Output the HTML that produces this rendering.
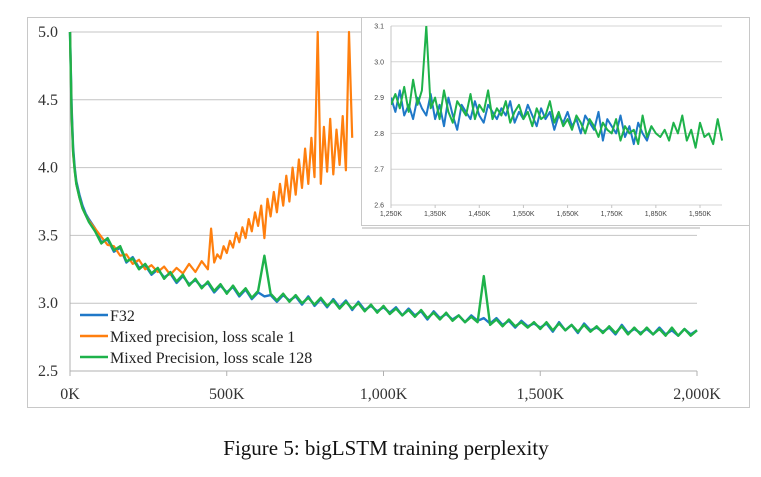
<!DOCTYPE html>
<html><head><meta charset="utf-8"><style>
html,body{margin:0;padding:0;background:#fff;}
svg{display:block;}
</style></head><body>
<svg id="c" width="761" height="477" viewBox="0 0 761 477" font-family="Liberation Serif, serif">
<rect x="27.5" y="17.5" width="722" height="390" fill="#fff" stroke="#c8c8c8"/>
<g id="main"></g>
<g id="inset"></g>
<g font-size="16" fill="#222">
<g><line x1="80" y1="315" x2="108" y2="315" stroke="#1f78c8" stroke-width="2.5"/><text x="110" y="321">F32</text></g>
<g><line x1="80" y1="336" x2="108" y2="336" stroke="#ff7f0e" stroke-width="2.5"/><text x="110" y="342">Mixed precision, loss scale 1</text></g>
<g><line x1="80" y1="357" x2="108" y2="357" stroke="#1eb24a" stroke-width="2.5"/><text x="110" y="363">Mixed Precision, loss scale 128</text></g>
</g>
<text x="386" y="455" text-anchor="middle" font-size="21" fill="#111">Figure 5: bigLSTM training perplexity</text>
</svg>
<script>
const mainX=[0,5,10,15,20,30,40,50,60,80,100,120,140,160,180,200,220,240,260,280,300,320,340,360,380,400,420,440,460,480,500,520,540,560,580,600,620,640,660,680,700,720,740,760,780,800,820,840,860,880,900,920,940,960,980,1000,1020,1040,1060,1080,1100,1120,1140,1160,1180,1200,1220,1240,1260,1280,1300,1320,1340,1360,1380,1400,1420,1440,1460,1480,1500,1520,1540,1560,1580,1600,1620,1640,1660,1680,1700,1720,1740,1760,1780,1800,1820,1840,1860,1880,1900,1920,1940,1960,1980,2000];
const f32Main=[5.0,4.45,4.15,4.0,3.9,3.8,3.72,3.66,3.62,3.55,
3.45,3.47,3.38,3.41,3.30,3.34,3.26,3.28,3.21,3.25,
3.19,3.22,3.15,3.20,3.14,3.17,3.12,3.15,3.08,3.13,
3.08,3.12,3.05,3.10,3.03,3.08,3.05,3.06,3.01,3.06,
3.02,3.05,2.99,3.05,2.98,3.03,2.97,3.03,2.97,3.02,
2.95,3.01,2.95,2.98,2.94,2.97,2.93,2.97,2.91,2.96,
2.91,2.94,2.88,2.94,2.89,2.92,2.88,2.91,2.86,2.91,
2.87,2.89,2.85,2.89,2.84,2.87,2.82,2.87,2.83,2.85,
2.82,2.85,2.79,2.86,2.80,2.84,2.78,2.85,2.80,2.82,
2.79,2.82,2.77,2.84,2.78,2.81,2.78,2.81,2.77,2.82,
2.77,2.80,2.76,2.81,2.77,2.80];
const mp128Main=[5.0,4.4,4.12,3.98,3.88,3.78,3.70,3.65,3.60,3.53,
3.44,3.48,3.39,3.42,3.31,3.33,3.25,3.29,3.22,3.26,
3.18,3.23,3.16,3.21,3.13,3.18,3.11,3.16,3.09,3.14,
3.07,3.13,3.06,3.11,3.04,3.09,3.35,3.07,3.02,3.07,
3.01,3.06,3.00,3.04,2.99,3.04,2.98,3.02,2.96,3.01,
2.96,3.00,2.94,2.99,2.93,2.98,2.92,2.96,2.91,2.95,
2.90,2.95,2.89,2.93,2.88,2.93,2.87,2.91,2.86,2.90,
2.86,3.20,2.84,2.88,2.83,2.88,2.83,2.86,2.82,2.86,
2.81,2.86,2.80,2.85,2.80,2.84,2.79,2.84,2.79,2.83,
2.78,2.83,2.78,2.83,2.77,2.82,2.77,2.82,2.77,2.81,
2.76,2.82,2.76,2.81,2.76,2.80];
const mp1X=[0,5,10,15,20,30,40,50,60,80,100,120,140,160,180,200,220,240,260,280,300,320,340,360,380,400,420,440,450,460,470,480,490,500,510,520,530,540,550,560,570,580,590,600,610,620,630,640,650,660,670,680,690,700,710,720,730,740,750,760,770,780,790,800,810,820,830,840,850,860,870,880,890,900];
const mp1Main=[5.0,4.4,4.1,3.98,3.88,3.78,3.70,3.65,3.61,3.55,
3.49,3.43,3.42,3.35,3.36,3.29,3.32,3.25,3.28,3.23,
3.27,3.21,3.26,3.22,3.29,3.23,3.31,3.25,3.55,
3.30,3.36,3.33,3.42,3.37,3.46,3.41,3.52,3.45,3.56,
3.48,3.62,3.53,3.67,3.57,3.72,3.48,3.77,3.64,3.82,
3.67,3.88,3.72,3.94,3.75,4.00,3.80,4.06,3.85,4.14,
3.88,4.22,3.93,5.0,3.88,4.30,3.97,4.36,3.95,4.28,
4.02,4.38,3.98,5.0,4.22];
const mainYTicks=["2.5","3.0","3.5","4.0","4.5","5.0"];
const mainXTicks=["0K","500K","1,000K","1,500K","2,000K"];
const insetX0=1250;
const insetStep=10;
const f32Inset=[2.90,2.86,2.92,2.85,2.88,2.84,2.90,2.87,2.85,2.91,
2.84,2.88,2.82,2.90,2.85,2.81,2.88,2.86,2.84,2.89,
2.85,2.83,2.88,2.86,2.84,2.87,2.85,2.89,2.83,2.86,
2.84,2.88,2.85,2.82,2.87,2.84,2.86,2.81,2.85,2.83,
2.86,2.82,2.84,2.80,2.85,2.83,2.81,2.86,2.78,2.84,
2.82,2.80,2.85,2.79,2.82,2.77,2.83,2.80,2.78,2.82];
const mp128Inset=[2.88,2.91,2.87,2.93,2.86,2.95,2.88,2.92,3.10,2.87,
2.90,2.84,2.92,2.86,2.83,2.89,2.87,2.85,2.91,2.84,
2.88,2.86,2.92,2.84,2.87,2.85,2.89,2.83,2.86,2.88,
2.84,2.86,2.82,2.87,2.84,2.85,2.89,2.83,2.86,2.82,
2.84,2.81,2.85,2.83,2.80,2.84,2.82,2.79,2.83,2.81,
2.80,2.84,2.78,2.82,2.80,2.81,2.77,2.85,2.79,2.82,
2.80,2.79,2.81,2.78,2.83,2.80,2.85,2.78,2.81,2.76,
2.83,2.79,2.80,2.77,2.84,2.78];
const insetYTicks=["2.6","2.7","2.8","2.9","3.0","3.1"];
const insetXTicks=["1,250K","1,350K","1,450K","1,550K","1,650K","1,750K","1,850K","1,950K"];

const NS="http://www.w3.org/2000/svg";
function mk(p,t,a){const e=document.createElementNS(NS,t);for(const k in a)e.setAttribute(k,a[k]);p.appendChild(e);return e;}
const mx=v=>70+(v/2000)*627;
const my=v=>371-(v-2.5)/2.5*339;
const main=document.getElementById('main');
mainYTicks.forEach(t=>{const v=parseFloat(t);
 const l=mk(main,'line',{x1:70,x2:697,y1:my(v),y2:my(v),stroke:v===2.5?'#b0b0b0':'#c4c4c4','stroke-width':1});
 
 
 const tx=mk(main,'text',{x:58,y:my(v)+5,'text-anchor':'end','font-size':16,fill:'#333'});tx.textContent=t;
 
 
});
mk(main,'line',{x1:70,x2:70,y1:32,y2:371,stroke:'#b0b0b0'});
mainXTicks.forEach((t,i)=>{const x=mx(i*500);
 mk(main,'line',{x1:x,x2:x,y1:371,y2:376,stroke:'#b0b0b0'});
 const tx=mk(main,'text',{x:x,y:399,'text-anchor':'middle','font-size':16,fill:'#333'});tx.textContent=t;
 
 
});
function line(g,xs,ys,fx,fy,col,name,clip,w){
 let d='';xs.forEach((x,i)=>{d+=(i?'L':'M')+fx(x).toFixed(1)+','+fy(ys[i]).toFixed(1);});
 const p=mk(g,'path',{d:d,fill:'none',stroke:col,'stroke-width':w||2,'stroke-linejoin':'round'});
 if(clip)p.setAttribute('clip-path',clip);
 
 
}
line(main,mainX,f32Main,mx,my,'#1f78c8','series-f32',null,2.4);
line(main,mp1X,mp1Main,mx,my,'#ff7f0e','series-mixed-loss-scale-1',null,2.2);
line(main,mainX,mp128Main,mx,my,'#1eb24a','series-mixed-loss-scale-128',null,2.4);
const ins=document.getElementById('inset');
const ib=mk(ins,'rect',{x:361.5,y:17.5,width:388,height:208,fill:'#fff',stroke:'#c8c8c8'});


mk(ins,'line',{x1:362,x2:700,y1:228,y2:228,stroke:'#d8d8d8','stroke-width':2});
const ix=v=>391+(v-1250)/700*309;
const iy=v=>205-(v-2.6)/0.5*179;
const defs=mk(ins,'defs',{});const cp=mk(defs,'clipPath',{id:'ic'});mk(cp,'rect',{x:391,y:iy(3.1),width:340,height:180});
insetYTicks.forEach(t=>{const v=parseFloat(t);
 mk(ins,'line',{x1:391,x2:722,y1:iy(v),y2:iy(v),stroke:'#d4d4d4'});
 const tx=mk(ins,'text',{x:384,y:iy(v)+2.5,'text-anchor':'end','font-size':7,fill:'#444','font-family':'Liberation Sans, sans-serif'});tx.textContent=t;
 
 
});
mk(ins,'line',{x1:391,x2:391,y1:iy(3.1),y2:iy(2.6),stroke:'#c4c4c4'});
insetXTicks.forEach((t,i)=>{const x=ix(1250+i*100);
 mk(ins,'line',{x1:x,x2:x,y1:205,y2:208,stroke:'#c4c4c4'});
 const tx=mk(ins,'text',{x:x,y:216,'text-anchor':'middle','font-size':7,fill:'#444','font-family':'Liberation Sans, sans-serif'});tx.textContent=t;
 
 
});
const fxs=f32Inset.map((_,i)=>insetX0+i*insetStep);
const gxs=mp128Inset.map((_,i)=>insetX0+i*insetStep);
line(ins,fxs,f32Inset,ix,iy,'#1f78c8','inset-series-f32','url(#ic)');
line(ins,gxs,mp128Inset,ix,iy,'#1eb24a','inset-series-mixed-128','url(#ic)');
</script>
</body></html>
